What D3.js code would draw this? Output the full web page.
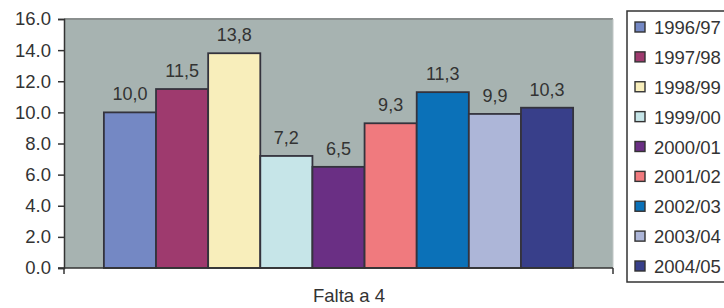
<!DOCTYPE html>
<html>
<head>
<meta charset="utf-8">
<script src="https://cdn.jsdelivr.net/npm/d3@7"></script>
<style>
  body { margin: 0; background: #fff; }
  text { font-family: "Liberation Sans", Arial, sans-serif; fill: #333; }
</style>
</head>
<body>
<section id="chart"></section>
<script>
var seasons = ["1996/97", "1997/98", "1998/99", "1999/00", "2000/01", "2001/02", "2002/03", "2003/04", "2004/05"];
var values = [10.0, 11.5, 13.8, 7.2, 6.5, 9.3, 11.3, 9.9, 10.3];
var labels = ["10,0", "11,5", "13,8", "7,2", "6,5", "9,3", "11,3", "9,9", "10,3"];
var colors = ["#7488c4", "#9e3a6e", "#f8eebb", "#c6e5e8", "#6a2f84", "#f07a7e", "#0b71b8", "#adb6d8", "#383f8a"];
var yTicks = [0, 2, 4, 6, 8, 10, 12, 14, 16];
var category = "Falta a 4";

var width = 724, height = 308;
var plot = { left: 64, right: 613, top: 19, bottom: 268 };

var svg = d3.select("section#chart")
    .append("svg")
    .attr("width", width)
    .attr("height", height);

var y = d3.scaleLinear().domain([0, 16]).range([plot.bottom, plot.top]);

// one group, bars side by side
var x0 = d3.scaleBand().domain([category]).range([plot.left, plot.right]).paddingInner(0).paddingOuter(0.085);
var x1 = d3.scaleBand().domain(seasons).range([0, x0.bandwidth()]).padding(0);

// plot background
svg.append("rect")
    .attr("x", plot.left)
    .attr("y", plot.top)
    .attr("width", plot.right - plot.left)
    .attr("height", plot.bottom - plot.top)
    .attr("fill", "#a7b3b1");

svg.append("line")
    .attr("x1", plot.left).attr("x2", plot.right)
    .attr("y1", plot.top).attr("y2", plot.top)
    .attr("stroke", "#8a8f8e").attr("stroke-width", 2);

svg.append("line")
    .attr("x1", plot.right).attr("x2", plot.right)
    .attr("y1", plot.top).attr("y2", plot.bottom)
    .attr("stroke", "#c0c6c5").attr("stroke-width", 1);

var g = svg.append("g").attr("transform", "translate(" + x0(category) + ",0)");

g.selectAll("rect")
    .data(values)
    .enter()
    .append("rect")
    .attr("x", function(d, i) { return x1(seasons[i]); })
    .attr("y", function(d) { return y(d); })
    .attr("width", x1.bandwidth())
    .attr("height", function(d) { return y(0) - y(d); })
    .attr("fill", function(d, i) { return colors[i]; })
    .attr("stroke", "#34333d")
    .attr("stroke-width", 1.8);

g.selectAll("text.val")
    .data(values)
    .enter()
    .append("text")
    .attr("class", "val")
    .attr("x", function(d, i) { return x1(seasons[i]) + x1.bandwidth() / 2; })
    .attr("y", function(d) { return y(d) - 12; })
    .attr("text-anchor", "middle")
    .attr("font-size", 18)
    .text(function(d, i) { return labels[i]; });

// axes
var yAxis = d3.axisLeft(y)
    .tickValues(yTicks)
    .tickSize(6)
    .tickPadding(7)
    .tickFormat(d3.format(".1f"));

var ya = svg.append("g")
    .attr("transform", "translate(" + plot.left + ",0)")
    .call(yAxis);
ya.select(".domain").attr("stroke", "#333").attr("stroke-width", 1.5);
ya.selectAll(".tick line").attr("stroke", "#333").attr("stroke-width", 1.5);
ya.selectAll(".tick text").attr("font-size", 18.5).attr("fill", "#333")
    .attr("font-family", "Liberation Sans, Arial, sans-serif");

svg.append("line")
    .attr("x1", plot.left - 6).attr("x2", plot.right)
    .attr("y1", plot.bottom).attr("y2", plot.bottom)
    .attr("stroke", "#333").attr("stroke-width", 1.5);
svg.append("line")
    .attr("x1", plot.right).attr("x2", plot.right)
    .attr("y1", plot.bottom).attr("y2", plot.bottom + 6)
    .attr("stroke", "#333").attr("stroke-width", 1.5);
svg.append("line")
    .attr("x1", plot.left).attr("x2", plot.left)
    .attr("y1", plot.bottom).attr("y2", plot.bottom + 6)
    .attr("stroke", "#333").attr("stroke-width", 1.5);

svg.append("text")
    .attr("x", 349)
    .attr("y", 302)
    .attr("text-anchor", "middle")
    .attr("font-size", 18.5)
    .text(category);

// legend
var legend = svg.append("g").attr("transform", "translate(627,11)");
legend.append("rect")
    .attr("x", 0).attr("y", 0)
    .attr("width", 110).attr("height", 271)
    .attr("fill", "#fff")
    .attr("stroke", "#333").attr("stroke-width", 1.5);

var ly = d3.scalePoint().domain(seasons).range([16, 255]);

var item = legend.selectAll("g.item")
    .data(seasons)
    .enter()
    .append("g")
    .attr("class", "item")
    .attr("transform", function(d) { return "translate(0," + ly(d) + ")"; });

item.append("rect")
    .attr("x", 8).attr("y", -5)
    .attr("width", 10).attr("height", 10)
    .attr("fill", function(d, i) { return colors[i]; })
    .attr("stroke", "#333").attr("stroke-width", 1.4);

item.append("text")
    .attr("x", 27)
    .attr("y", 7)
    .attr("font-size", 18.5)
    .text(function(d) { return d; });
</script>
</body>
</html>
